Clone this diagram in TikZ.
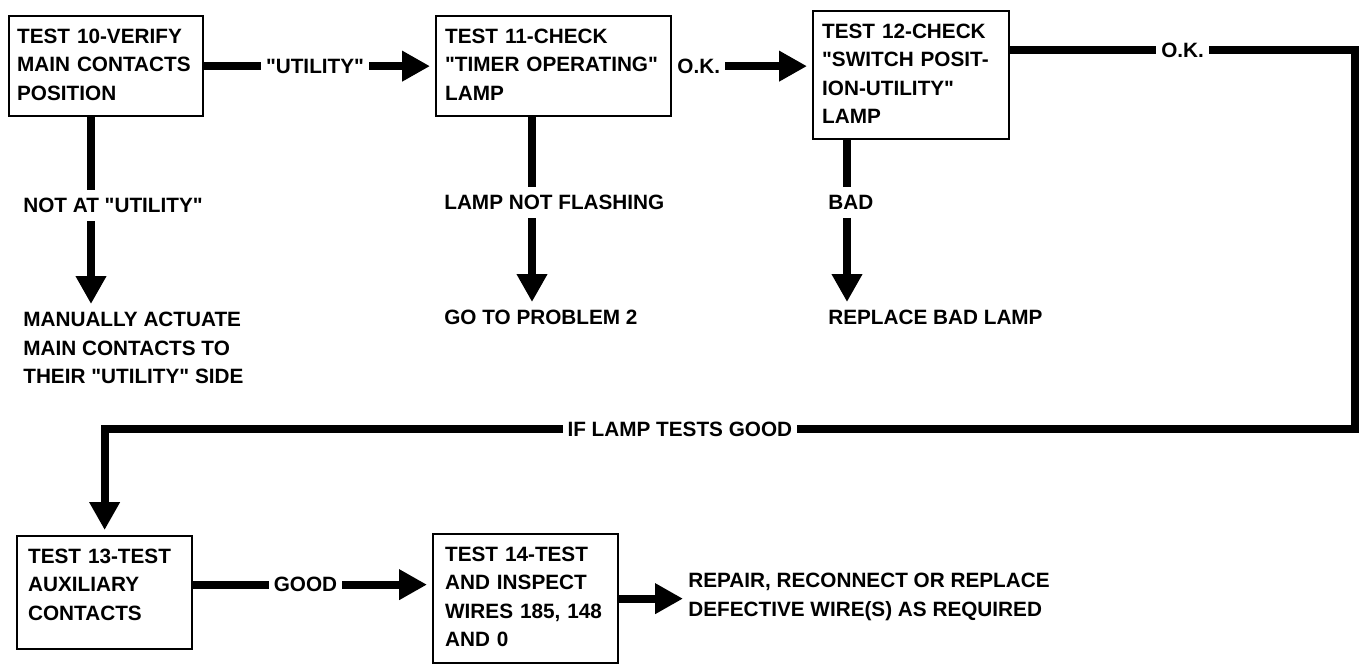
\documentclass[tikz,border=0pt]{standalone}
\usepackage{fontspec}
\setmainfont{Liberation Sans}[Ligatures=TeXOff]
\usetikzlibrary{arrows.meta,positioning}
\tikzset{
  box/.style={draw, line width=1.3pt, anchor=north west, align=left, inner xsep=0.18cm, inner ysep=0.24cm, text height=0.3cm,
    execute at begin node={\hyphenpenalty=10000\exhyphenpenalty=10000}},
  lbl/.style={anchor=north west, align=left, inner xsep=0.1cm, inner ysep=0.16cm},
  onln/.style={fill=white, inner xsep=0.1cm, inner ysep=0.04cm},
  ln/.style={line width=0.16cm},
  arr/.style={ln, -{Triangle[length=0.56cm, width=0.58cm]}},
  into/.style={shorten >=0.1cm},
}

\begin{document}
\begin{tikzpicture}[x=0.02cm, y=-0.02cm, font=\fontsize{11.8}{16.2}\selectfont\bfseries]
  \useasboundingbox (0,0) rectangle (1364,667);

  % test boxes
  \node[box, inner xsep=0.16cm, text width=3.56cm, text depth=1.22cm] (b10) at (8,15) {TEST 10-VERIFY\\MAIN CONTACTS\\POSITION};
  \node[box, text width=4.34cm, text depth=1.22cm] (b11) at (435,15) {TEST 11-CHECK\\"TIMER OPERATING"\\LAMP};
  \node[box, text width=3.56cm, text depth=1.78cm] (b12) at (812,10) {TEST 12-CHECK\\"SWITCH POSIT-\\ION-UTILITY"\\LAMP};
  \node[box, inner xsep=0.22cm, text width=3.06cm, text depth=1.48cm] (b13) at (16,535) {TEST 13-TEST\\AUXILIARY\\CONTACTS};
  \node[box, inner xsep=0.24cm, text width=3.22cm, text depth=1.8cm] (b14) at (432,533) {TEST 14-TEST\\AND INSPECT\\WIRES 185, 148\\AND 0};

  % outcomes
  \node[lbl] (nat) at (18,190) {NOT AT "UTILITY"};
  \node[lbl] (act) at (18,304) {MANUALLY ACTUATE\\MAIN CONTACTS TO\\THEIR "UTILITY" SIDE};
  \node[lbl] (lnf) at (439,187) {LAMP NOT FLASHING};
  \node[lbl] (gtp) at (439,302) {GO TO PROBLEM 2};
  \node[lbl] (bad) at (823,187) {BAD};
  \node[lbl] (rbl) at (823,302) {REPLACE BAD LAMP};
  \node[lbl] (rep) at (683,565) {REPAIR, RECONNECT OR REPLACE\\DEFECTIVE WIRE(S) AS REQUIRED};

  \coordinate (c10) at (91,0);
  \coordinate (c11) at (532,0);
  \coordinate (c12) at (847,0);
  \coordinate (rt) at (1355,50);
  \coordinate (lp) at (1355,429);
  \coordinate (g) at ([yshift=0.16cm]b13.east);

  % main line
  \draw[arr, into] (b10) -- node[onln, pos=0.48] {"UTILITY"} (b11);
  \draw[arr, into] (b11.east) -- node[onln, pos=0.19] {O.K.} (b11.east -| b12.west);
  \draw[arr, into] (b12.east |- rt) -- node[onln] {O.K.} (rt) -- (lp)
    -- node[onln, pos=0.54] {IF LAMP TESTS GOOD} (lp -| b13.north) -- (b13.north);
  \draw[arr, into] (g) -- node[onln, pos=0.47] {GOOD} (g -| b14.west);
  \draw[arr] (b14.east) -- (b14.east -| rep.west);

  % branches down
  \draw[ln] (b10.south -| c10) -- (nat.north -| c10);
  \draw[arr] (nat.south -| c10) -- (act.north -| c10);
  \draw[ln] (b11.south -| c11) -- (lnf.north -| c11);
  \draw[arr] (lnf.south -| c11) -- (gtp.north -| c11);
  \draw[ln] (b12.south -| c12) -- (bad.north -| c12);
  \draw[arr] (bad.south -| c12) -- (rbl.north -| c12);
\end{tikzpicture}
\end{document}
